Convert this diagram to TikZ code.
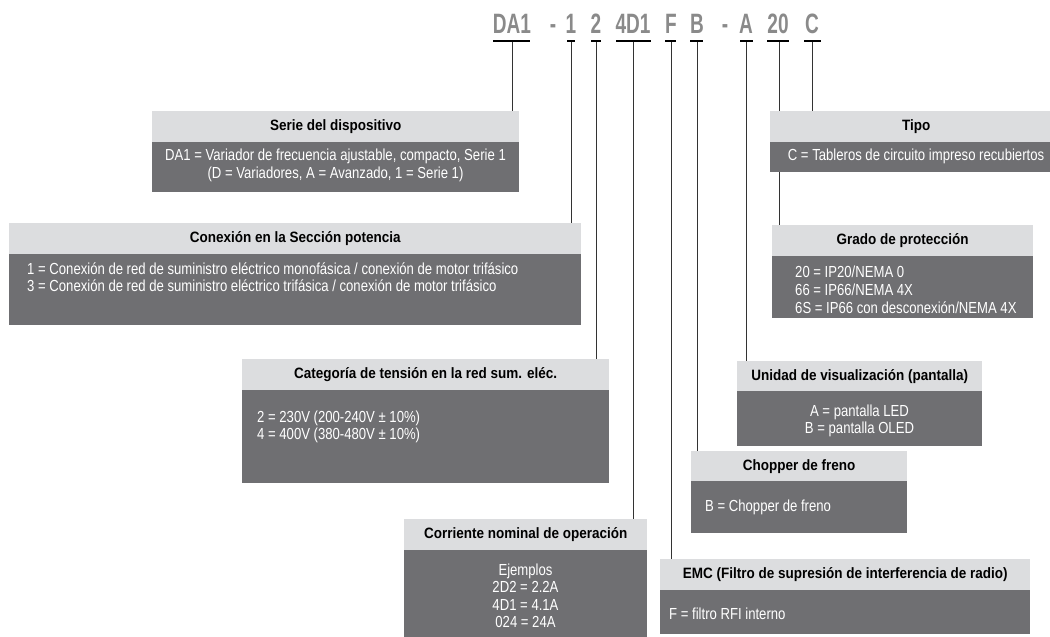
\documentclass[tikz,border=0pt]{standalone}
\usepackage{fontspec}
\setmainfont{Liberation Sans}
\newfontfamily\condf[FakeStretch=0.82]{Liberation Sans}
\newfontfamily\condh[FakeStretch=0.9]{Liberation Sans}
\newfontfamily\codef[FakeStretch=0.68]{Liberation Sans}
\usetikzlibrary{backgrounds}
\definecolor{hdrgray}{HTML}{DCDDDF}
\definecolor{bodygray}{HTML}{6F6F72}
\definecolor{codegray}{HTML}{8A8A8A}
\definecolor{linegray}{HTML}{333333}
\begin{document}
\begin{tikzpicture}[x=1pt,y=-1pt,
  code/.style={font=\codef\bfseries\fontsize{28}{28}\selectfont, text=codegray, inner sep=0pt, anchor=base},
  uline/.style={line width=1.8pt, black},
  conn/.style={line width=1pt, linegray},
  hdr/.style={fill=hdrgray, draw=none, inner sep=0pt, anchor=north west, font=\condh\bfseries\fontsize{15}{17}\selectfont, text=black, minimum height=31pt},
  bodybox/.style={fill=bodygray, draw=none, inner sep=0pt, anchor=north west},
  btxt/.style={font=\condf\fontsize{16}{17}\selectfont, text=white, inner sep=0pt, anchor=base west},
  btxc/.style={btxt, anchor=base},
]
\useasboundingbox (0,0) rectangle (1050,637);
\clip (0,0) rectangle (1050,637);

% ---- code ----
\node[code] (cDA1) at (512,33) {DA1};
\node[code] (dash1) at (553,33) {-};
\node[code] (c1) at (571,33) {1};
\node[code] (c2) at (596,33) {2};
\node[code] (c4D1) at (633,33) {4D1};
\node[code] (cF) at (671,33) {F};
\node[code] (cB) at (697,33) {B};
\node[code] (dash2) at (725,33) {-};
\node[code] (cA) at (746,33) {A};
\node[code] (c20) at (778,33) {20};
\node[code] (cC) at (812,33) {C};

\draw[uline] (493,41) -- (530,41);
\draw[uline] (567,41) -- (575,41);
\draw[uline] (591,41) -- (601,41);
\draw[uline] (616,41) -- (651,41);
\draw[uline] (665,41) -- (676,41);
\draw[uline] (690,41) -- (703,41);
\draw[uline] (740,41) -- (753,41);
\draw[uline] (767,41) -- (789,41);
\draw[uline] (804,41) -- (821,41);

\coordinate (uDA1) at (512,41);
\coordinate (u1) at (571,41);
\coordinate (u2) at (596,41);
\coordinate (u4D1) at (633,41);
\coordinate (uF) at (671,41);
\coordinate (uB) at (697,41);
\coordinate (uA) at (746,41);
\coordinate (u20) at (779,41);
\coordinate (uC) at (812,41);

% ---- Serie ----
\node[hdr, minimum width=367pt] (serieH) at (152,111) {Serie del dispositivo};
\node[bodybox, minimum width=367pt, minimum height=50pt] (serieB) at (152,142) {};
\node[btxc] (serieT1) at (335.5,160) {DA1 = Variador de frecuencia ajustable, compacto, Serie 1};
\node[btxc] (serieT2) at (335.5,178) {(D = Variadores, A = Avanzado, 1 = Serie 1)};

% ---- Conexion ----
\node[hdr, minimum width=572pt] (conH) at (9,223) {Conexión en la Sección potencia};
\node[bodybox, minimum width=572pt, minimum height=71pt] (conB) at (9,254) {};
\node[btxt] (conT1) at (27,274) {1 = Conexión de red de suministro eléctrico monofásica / conexión de motor trifásico};
\node[btxt] (conT2) at (27,291) {3 = Conexión de red de suministro eléctrico trifásica / conexión de motor trifásico};

% ---- Categoria ----
\node[hdr, minimum width=367pt] (catH) at (242,359) {Categoría de tensión en la red sum. eléc.};
\node[bodybox, minimum width=367pt, minimum height=93pt] (catB) at (242,390) {};
\node[btxt] (catT1) at (257,422) {2 = 230V (200-240V ± 10\%)};
\node[btxt] (catT2) at (257,439) {4 = 400V (380-480V ± 10\%)};

% ---- Corriente ----
\node[hdr, minimum width=243pt] (corH) at (404,519) {Corriente nominal de operación};
\node[bodybox, minimum width=243pt, minimum height=90pt] (corB) at (404,550) {};
\node[btxc] (corT1) at (525.5,575) {Ejemplos};
\node[btxc] (corT2) at (525.5,592) {2D2 = 2.2A};
\node[btxc] (corT3) at (525.5,610) {4D1 = 4.1A};
\node[btxc] (corT4) at (525.5,627) {024 = 24A};

% ---- EMC ----
\node[hdr, minimum width=370pt] (emcH) at (660,559) {EMC (Filtro de supresión de interferencia de radio)};
\node[bodybox, minimum width=370pt, minimum height=44pt] (emcB) at (660,590) {};
\node[btxt] (emcT1) at (669,619) {F = filtro RFI interno};

% ---- Chopper ----
\node[hdr, minimum width=216pt, minimum height=30pt] (chH) at (691,451) {Chopper de freno};
\node[bodybox, minimum width=216pt, minimum height=52pt] (chB) at (691,481) {};
\node[btxt] (chT1) at (705,511) {B = Chopper de freno};

% ---- Unidad ----
\node[hdr, minimum width=245pt, minimum height=30pt] (uniH) at (737,361) {Unidad de visualización (pantalla)};
\node[bodybox, minimum width=245pt, minimum height=55pt] (uniB) at (737,391) {};
\node[btxc] (uniT1) at (859.5,416) {A = pantalla LED};
\node[btxc] (uniT2) at (859.5,433) {B = pantalla OLED};

% ---- Grado ----
\node[hdr, minimum width=261pt] (graH) at (772,225) {Grado de protección};
\node[bodybox, minimum width=261pt, minimum height=62pt] (graB) at (772,256) {};
\node[btxt] (graT1) at (795,277) {20 = IP20/NEMA 0};
\node[btxt] (graT2) at (795,295) {66 = IP66/NEMA 4X};
\node[btxt] (graT3) at (795,313) {6S = IP66 con desconexión/NEMA 4X};

% ---- Tipo ----
\node[hdr, minimum width=292pt] (tipH) at (770,111) {Tipo};
\node[bodybox, minimum width=292pt, minimum height=30pt] (tipB) at (770,142) {};
\node[btxc] (tipT1) at (916,160) {C = Tableros de circuito impreso recubiertos};

% ---- connectors ----
\begin{scope}[on background layer]
\draw[conn] (uDA1) -- (uDA1 |- serieH.north);
\draw[conn] (u1) -- (u1 |- conH.north);
\draw[conn] (u2) -- (u2 |- catH.north);
\draw[conn] (u4D1) -- (u4D1 |- corH.north);
\draw[conn] (uF) -- (uF |- emcH.north);
\draw[conn] (uB) -- (uB |- chH.north);
\draw[conn] (uA) -- (uA |- uniH.north);
\draw[conn] (u20) -- (u20 |- graH.north);
\draw[conn] (uC) -- (uC |- tipH.north);
\end{scope}
\end{tikzpicture}
\end{document}
